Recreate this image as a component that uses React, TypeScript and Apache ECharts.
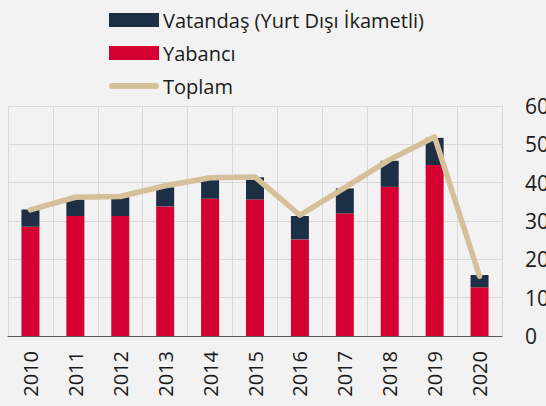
import React, { useEffect, useRef } from "react";
import * as echarts from "echarts";

const years = ["2010", "2011", "2012", "2013", "2014", "2015", "2016", "2017", "2018", "2019", "2020"];
const yabanci = [28.5, 31.3, 31.3, 33.8, 35.8, 35.6, 25.2, 32.0, 38.9, 44.6, 12.7];
const vatandas = [4.5, 4.4, 4.9, 5.0, 4.9, 5.8, 6.1, 6.5, 6.8, 7.1, 3.2];
const toplam = [32.9, 36.2, 36.4, 39.2, 41.3, 41.5, 31.5, 38.7, 46.0, 51.9, 15.6];
const yTicks = [0, 10, 20, 30, 40, 50, 60];

const FONT = "'Open Sans', 'Noto Sans', sans-serif";

export default function App() {
  const ref = useRef<HTMLDivElement>(null);
  useEffect(() => {
    if (!ref.current) return;
    const chart = echarts.init(ref.current, undefined, { renderer: "svg" });
    chart.setOption({
      animation: false,
      backgroundColor: "#f2f2f2",
      textStyle: { fontFamily: FONT },
      legend: {
        orient: "vertical",
        left: 109,
        top: 10,
        padding: 0,
        itemWidth: 50,
        itemHeight: 14,
        itemGap: 13,
        textStyle: { fontSize: 20, color: "#1a1a1a", fontFamily: FONT, lineHeight: 20, padding: [0, 0, 0, -1] },
        data: [
          { name: "Vatandaş (Yurt Dışı İkametli)", icon: "rect" },
          { name: "Yabancı", icon: "rect" },
          {
            name: "Toplam",
            icon: "path://M3,0 L47,0 A3,3 0 0 1 47,6 L3,6 A3,3 0 0 1 3,0 Z",
          },
        ],
      },
      grid: { left: 8, right: 44, top: 106, bottom: 70, containLabel: false, outerBoundsMode: "none" },
      xAxis: {
        type: "category",
        data: years,
        boundaryGap: true,
        axisLine: { show: true, lineStyle: { color: "#595959", width: 1 } },
        axisTick: { show: false },
        splitLine: { show: true, lineStyle: { color: "#d9d9d9", width: 1 } },
        axisLabel: { rotate: 90, fontSize: 20, color: "#1a1a1a", margin: 15, fontFamily: FONT },
      },
      yAxis: {
        type: "value",
        position: "right",
        min: yTicks[0],
        max: yTicks[yTicks.length - 1],
        interval: 10,
        axisLine: { show: false },
        axisTick: { show: false },
        splitLine: { show: true, lineStyle: { color: "#d9d9d9", width: 1 } },
        axisLabel: { fontSize: 21, color: "#1a1a1a", margin: 23, fontFamily: FONT },
      },
      series: [
        {
          name: "Yabancı",
          type: "bar",
          stack: "t",
          data: yabanci,
          barWidth: 18,
          itemStyle: { color: "#d50032" },
        },
        {
          name: "Vatandaş (Yurt Dışı İkametli)",
          type: "bar",
          stack: "t",
          data: vatandas,
          barWidth: 18,
          itemStyle: { color: "#1c2f45" },
        },
        {
          name: "Toplam",
          type: "line",
          data: toplam,
          symbol: "none",
          lineStyle: { color: "#d6c09a", width: 5.5, cap: "round", join: "round" },
          itemStyle: { color: "#d6c09a" },
        },
      ],
    });
    return () => chart.dispose();
  }, []);
  return <div ref={ref} style={{ width: 546, height: 406, position: "absolute", left: 0, top: 0 }} />;
}
